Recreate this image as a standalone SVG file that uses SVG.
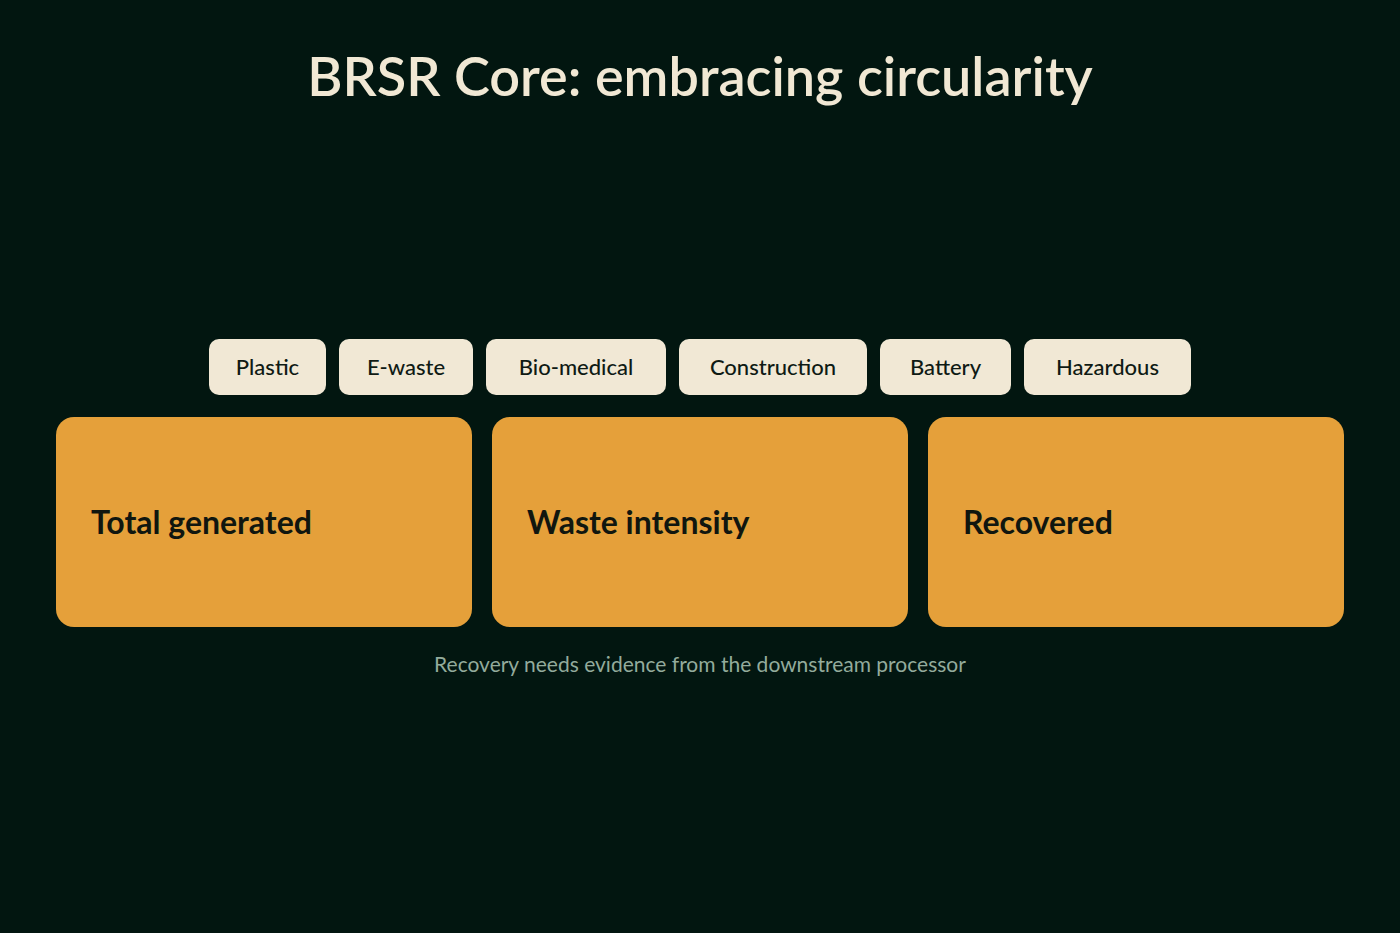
<svg xmlns="http://www.w3.org/2000/svg" width="1400" height="933" viewBox="0 0 1400 933">
<style>
text{font-family:"Lato","Noto Sans","Liberation Sans",sans-serif}
.pill rect{fill:#f1e8d5}
.pill text{fill:#0f1a14;font-size:22px;font-weight:500;text-anchor:middle}
.card rect{fill:#e5a03a}
.card text{fill:#10160f;font-size:32px;font-weight:700}
</style>
<rect width="1400" height="933" fill="#021610"/>
<text x="700" y="96" text-anchor="middle" font-size="54" font-weight="600" fill="#f1e8d4">BRSR Core: embracing circularity</text>
<g id="connectors"/>
<g id="pill-plastic" class="pill"><rect x="209" y="339" width="117" height="56" rx="10"/><text x="267.5" y="375">Plastic</text></g>
<g id="pill-ewaste" class="pill"><rect x="339" y="339" width="134" height="56" rx="10"/><text x="406" y="375">E-waste</text></g>
<g id="pill-biomedical" class="pill"><rect x="486" y="339" width="180" height="56" rx="10"/><text x="576" y="375">Bio-medical</text></g>
<g id="pill-construction" class="pill"><rect x="679" y="339" width="188" height="56" rx="10"/><text x="773" y="375">Construction</text></g>
<g id="pill-battery" class="pill"><rect x="880" y="339" width="131" height="56" rx="10"/><text x="945.5" y="375">Battery</text></g>
<g id="pill-hazardous" class="pill"><rect x="1024" y="339" width="167" height="56" rx="10"/><text x="1107.5" y="375">Hazardous</text></g>
<g id="card-total" class="card"><rect x="56" y="417" width="416" height="210" rx="18"/><text x="91" y="534">Total generated</text></g>
<g id="card-intensity" class="card"><rect x="492" y="417" width="416" height="210" rx="18"/><text x="527" y="534">Waste intensity</text></g>
<g id="card-recovered" class="card"><rect x="928" y="417" width="416" height="210" rx="18"/><text x="963" y="534">Recovered</text></g>
<text x="700" y="672" text-anchor="middle" font-size="21" fill="#93ab9c">Recovery needs evidence from the downstream processor</text>
</svg>
